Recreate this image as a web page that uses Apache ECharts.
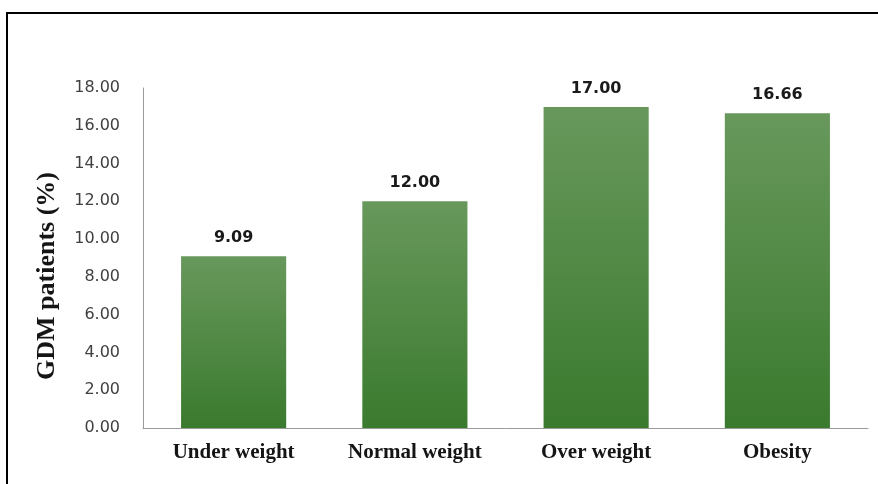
<!DOCTYPE html>
<html>
<head>
<meta charset="utf-8">
<script src="https://cdn.jsdelivr.net/npm/echarts@6/dist/echarts.min.js"></script>
<style>
  html, body { margin: 0; padding: 0; background: #fff; }
  #frame { position: absolute; left: 6px; top: 12px; width: 880px; height: 480px;
           border-top: 2px solid #000; border-left: 2px solid #000; }
  #chart { position: absolute; left: 0; top: 0; width: 878px; height: 484px; }
</style>
</head>
<body>
<div id="frame"></div>
<div id="chart"></div>
<script>
// BMI groups and share of GDM patients in each (%)
const categories = ['Under weight', 'Normal weight', 'Over weight', 'Obesity'];
const gdmPercent = [9.09, 12.00, 17.00, 16.66];
const yTicks = { min: 0, max: 18, interval: 2 };
const yTitle = 'GDM patients (%)';

const chart = echarts.init(document.getElementById('chart'));
chart.setOption({
  animation: false,
  grid: { left: 143, right: 10, top: 88, bottom: 56 },
  // rotated y-axis title, set slightly below the plot's middle
  graphic: [{
    type: 'text',
    x: 47,
    y: 276,
    rotation: Math.PI / 2,
    style: {
      text: yTitle,
      align: 'center',
      verticalAlign: 'middle',
      font: 'bold 26px "Liberation Serif", "Times New Roman", serif',
      fill: '#151515'
    }
  }],
  xAxis: {
    type: 'category',
    data: categories,
    axisLine: { lineStyle: { color: '#9a9a9a', width: 1 } },
    axisTick: { show: false },
    axisLabel: {
      margin: 14,
      fontFamily: '"Liberation Serif", "Times New Roman", serif',
      fontWeight: 'bold',
      fontSize: 21,
      color: '#151515'
    }
  },
  yAxis: {
    type: 'value',
    min: yTicks.min,
    max: yTicks.max,
    interval: yTicks.interval,
    axisLine: { show: true, lineStyle: { color: '#9a9a9a', width: 1 } },
    axisTick: { show: false },
    splitLine: { show: false },
    axisLabel: {
      margin: 23,
      formatter: v => v.toFixed(2),
      fontFamily: '"DejaVu Sans", sans-serif',
      fontSize: 16,
      color: '#404040'
    }
  },
  series: [{
    type: 'bar',
    data: gdmPercent,
    barCategoryGap: '42%',
    itemStyle: {
      color: new echarts.graphic.LinearGradient(0, 0, 0, 1, [
        { offset: 0, color: '#68985c' },
        { offset: 1, color: '#3a7a2e' }
      ])
    },
    label: {
      show: true,
      position: 'top',
      distance: 10,
      formatter: p => p.value.toFixed(2),
      fontFamily: '"DejaVu Sans", sans-serif',
      fontWeight: 'bold',
      fontSize: 16,
      color: '#1a1a1a'
    }
  }]
});
</script>
</body>
</html>
